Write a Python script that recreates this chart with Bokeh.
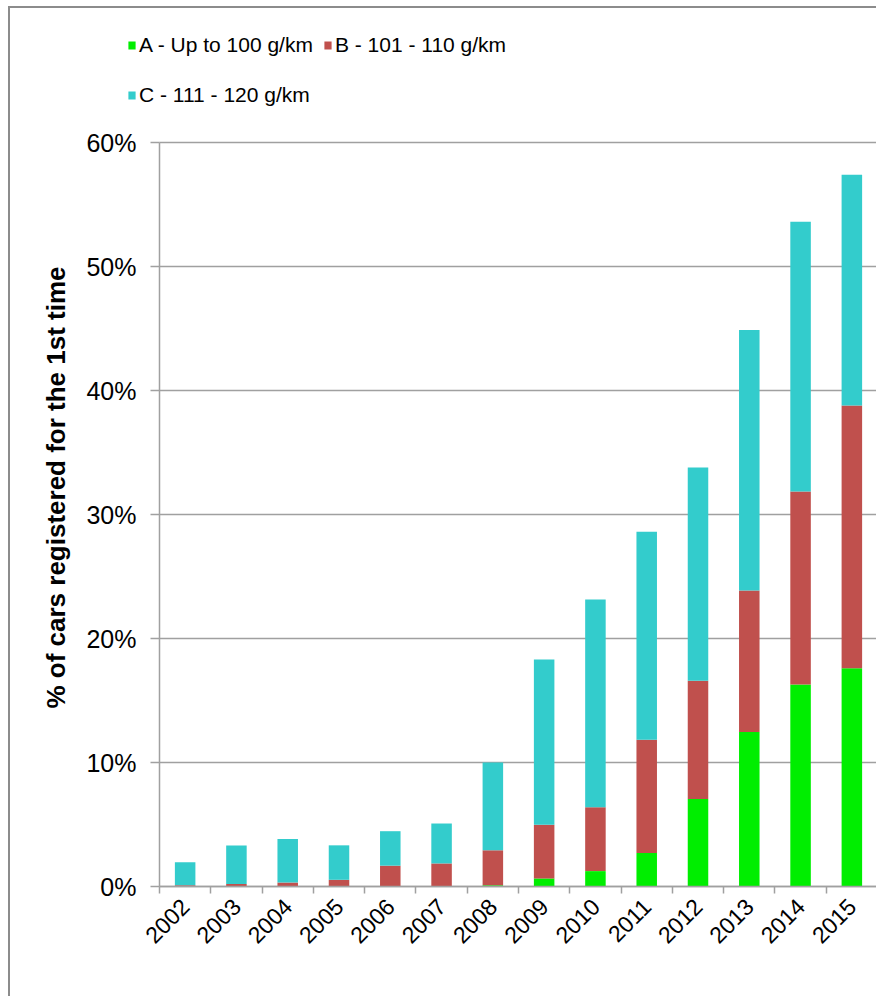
import math
from bokeh.plotting import figure
from bokeh.models import (ColumnDataSource, Range1d, FixedTicker, PrintfTickFormatter,
                          Legend, LegendItem, Label)
from bokeh.embed import file_html
from bokeh.resources import INLINE

years = ["2002", "2003", "2004", "2005", "2006", "2007", "2008",
         "2009", "2010", "2011", "2012", "2013", "2014", "2015"]
# segment heights in percent
a_up_to_100 = [0, 0, 0, 0, 0, 0, 0.1, 0.65, 1.24, 2.7, 7.05, 12.46, 16.3, 17.6]
b_101_110 = [0.1, 0.2, 0.32, 0.54, 1.68, 1.86, 2.82, 4.32, 5.16, 9.14, 9.55, 11.41, 15.55, 21.2]
c_111_120 = [1.85, 3.1, 3.52, 2.78, 2.78, 3.22, 7.08, 13.33, 16.75, 16.76, 17.2, 21.0, 21.75, 18.6]
series_names = ["A - Up to 100 g/km", "B - 101 - 110 g/km", "C - 111 - 120 g/km"]
y_title = "% of cars registered for the 1st time"
colors = ["#00ee00", "#c0504d", "#33cccc"]
y_ticks = [0, 10, 20, 30, 40, 50, 60]
y_max = 60

n = len(years)
xpos = [i + 0.5 for i in range(n)]
src = ColumnDataSource(dict(x=xpos, a=a_up_to_100, b=b_101_110, c=c_111_120))

# ---- layout (page pixels) ----
OX, OY = 10, 8            # page position of figure content
W, H = 868, 990
PLOT_L, PLOT_R = 159, 877  # x of data 0 and n
PLOT_T, PLOT_B = 142, 886  # y of 60% and 0%
sx = (PLOT_R - PLOT_L) / n
sy = (PLOT_B - PLOT_T) / y_max
x0 = -(PLOT_L - OX) / sx
x1 = x0 + W / sx
y1 = y_max + (PLOT_T - OY) / sy
y0 = y1 - H / sy

p = figure(width=W, height=H, output_backend="svg", toolbar_location=None,
           x_range=Range1d(x0, x1), y_range=Range1d(y0, y1),
           min_border=0)
p.outline_line_color = None
p.styles = {"margin-left": "8px", "margin-top": "6px",
            "border-left": "2px solid #8c8c8c", "border-top": "2px solid #8c8c8c"}

rs = p.vbar_stack(["a", "b", "c"], x="x", width=0.4, source=src,
                  color=colors, line_width=0)

grey = "#a0a0a0"
# x axis
xa = p.xaxis[0]
xa.fixed_location = 0
xa.bounds = (0, n)
xa.ticker = FixedTicker(ticks=xpos, minor_ticks=list(range(n + 1)))
xa.major_label_overrides = {x: y for x, y in zip(xpos, years)}
xa.major_tick_line_color = None
xa.major_tick_in = 0
xa.major_tick_out = 7
xa.minor_tick_in = 0
xa.minor_tick_out = 7
xa.minor_tick_line_color = grey
xa.minor_tick_line_width = 1.5
xa.axis_line_color = grey
xa.axis_line_width = 1.5
xa.major_label_orientation = math.pi / 4
xa.major_label_standoff = 9
xa.major_label_text_font = "Liberation Sans"
xa.major_label_text_font_size = "23px"
xa.major_label_text_color = "#000000"

# y axis
ya = p.yaxis[0]
ya.fixed_location = 0
ya.bounds = (0, y_max)
ya.ticker = FixedTicker(ticks=y_ticks)
ya.formatter = PrintfTickFormatter(format="%d%%")
ya.major_tick_in = 0
ya.major_tick_out = 9
ya.major_tick_line_color = grey
ya.major_tick_line_width = 1.5
ya.minor_tick_line_color = None
ya.axis_line_color = grey
ya.axis_line_width = 1.5
ya.major_label_standoff = 14
ya.major_label_text_font = "Liberation Sans"
ya.major_label_text_font_size = "25px"
ya.major_label_text_color = "#000000"

# y axis title, placed like the reference (centred at page x=55, y=487)
p.add_layout(Label(x=55 - OX, y=OY + H - 487, x_units="screen", y_units="screen",
                   text=y_title, angle=math.pi / 2, text_align="center",
                   text_baseline="middle", text_font="Liberation Sans",
                   text_font_style="bold", text_font_size="26px",
                   text_color="#000000"))

p.xgrid.grid_line_color = None
p.ygrid.grid_line_color = grey
p.ygrid.grid_line_width = 1.5
p.ygrid.ticker = FixedTicker(ticks=y_ticks)
p.ygrid.cross_bounds = (0, n)

LH = 24
def make_legend(items, left, bottom):
    # location = bottom-left corner, screen px from frame bottom-left
    return Legend(items=items, location=(left - OX, OY + H - bottom),
                  orientation="horizontal",
                  glyph_width=9, glyph_height=10, label_standoff=3,
                  label_text_font="Liberation Sans", label_text_font_size="21px",
                  label_text_color="#000000",
                  label_height=LH, spacing=10, padding=0, margin=0,
                  border_line_color=None, background_fill_alpha=0)

leg_ab = make_legend([LegendItem(label=series_names[0], renderers=[rs[0]]),
                      LegendItem(label=series_names[1], renderers=[rs[1]])],
                     127, 45 + LH // 2)
leg_c = make_legend([LegendItem(label=series_names[2], renderers=[rs[2]])],
                    127, 95 + LH // 2)
p.add_layout(leg_ab, "center")
p.add_layout(leg_c, "center")

open("out.html", "w").write(file_html(p, INLINE))
